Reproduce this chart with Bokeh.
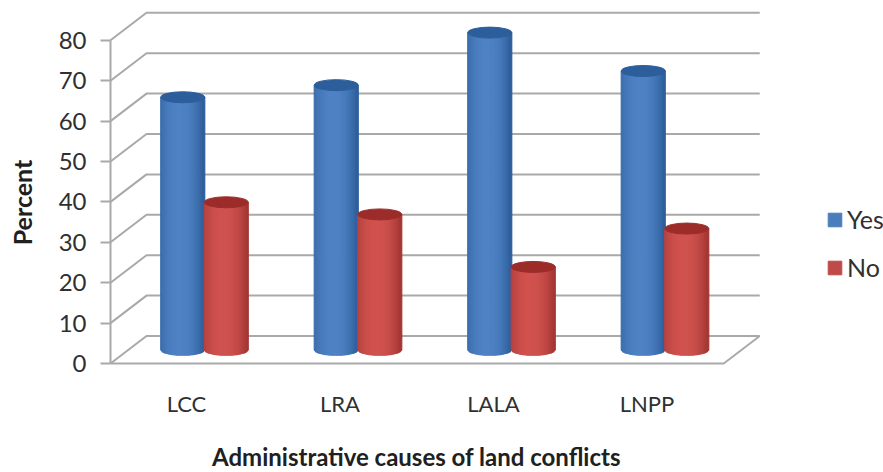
from bokeh.embed import file_html
from bokeh.resources import INLINE
from bokeh.plotting import figure
from bokeh.models import Range1d, FixedTicker, Legend, LegendItem, Label
import numpy as np

categories = ["LCC", "LRA", "LALA", "LNPP"]
yes_values = [62.5, 65.5, 78.5, 69]
no_values = [36.5, 33.5, 20.5, 30]
y_ticks = [0, 10, 20, 30, 40, 50, 60, 70, 80]
x_title = "Administrative causes of land conflicts"
y_title = "Percent"

# the frame fills the canvas; data origin sits at pixel (186, 363)
PX_X = 153.5
PX_Y = 4.04
AXIS_X, AXIS_Y = 110, 363
W, H = 883, 472
x0 = -186 / PX_X
x1 = x0 + W / PX_X
y0 = -(H - AXIS_Y) / PX_Y
y1 = AXIS_Y / PX_Y

p = figure(width=W, height=H, output_backend="svg", toolbar_location=None,
           x_range=Range1d(x0, x1), y_range=Range1d(y0, y1),
           min_border_left=0, min_border_right=0, min_border_top=0,
           min_border_bottom=0, outline_line_color=None)
p.grid.visible = False

# oblique projection: full depth of the floor, in data units
DX = 36 / PX_X
DY = 27.5 / PX_Y
FLOOR_L, FLOOR_R = -(186 - AXIS_X) / PX_X, 3.5
GREY = "#a9a9a9"

# side wall and back wall gridlines
for v in y_ticks:
    p.line([FLOOR_L, FLOOR_L + DX, FLOOR_R + DX],
           [v, v + DY, v + DY], line_color=GREY, line_width=2)
# floor outline
p.line([FLOOR_L, FLOOR_R, FLOOR_R + DX], [0, 0, DY], line_color=GREY, line_width=2)

# cylinders stand halfway into the depth
BAR_W = 44 / PX_X
ELL_H = 11 / PX_Y


def lerp(a, b, t):
    return tuple(a[k] + (b[k] - a[k]) * t for k in range(3))


def to_hex(c):
    return "#%02x%02x%02x" % tuple(int(round(k)) for k in c)


def cylinder(cx, val, edge, mid, cap):
    base = DY / 2
    top = base + val
    n = 22
    edges = np.linspace(-1, 1, n + 1)
    xs, ys, cols = [], [], []
    for i in range(n):
        a, b = edges[i], edges[i + 1]
        m = (a + b) / 2
        t = max(0.0, 1 - (abs(m + 0.12) / 1.12) ** 2.2)
        cols.append(to_hex(lerp(edge, mid, t)))
        sa = -np.sqrt(1 - a * a) * ELL_H / 2
        sb = -np.sqrt(1 - b * b) * ELL_H / 2
        xa = cx + a * BAR_W / 2
        xb = cx + b * BAR_W / 2
        xs.append([xa, xb, xb, xa])
        ys.append([base + sa, base + sb, top + sb, top + sa])
    p.patches(xs, ys, fill_color=cols, line_color=cols, line_width=1.2)
    p.ellipse([cx], [top], width=BAR_W, height=ELL_H,
              fill_color=to_hex(cap), line_color=to_hex(cap))


BLUE = ((44, 92, 152), (78, 130, 196), (44, 94, 156))
RED = ((160, 52, 50), (208, 82, 78), (156, 44, 42))
GAP = 43.5 / PX_X
for i in range(len(categories)):
    centre = i + DX / 2
    cylinder(centre - GAP / 2, yes_values[i], *BLUE)
    cylinder(centre + GAP / 2, no_values[i], *RED)

# left axis, pinned to the front edge of the floor
ya = p.yaxis[0]
ya.fixed_location = FLOOR_L
ya.ticker = FixedTicker(ticks=y_ticks)
ya.bounds = (0, 80)
ya.axis_line_color = GREY
ya.axis_line_width = 2
ya.major_tick_line_color = GREY
ya.major_tick_line_width = 2
ya.major_tick_in = 0
ya.major_tick_out = 10
ya.minor_tick_line_color = None
ya.major_label_standoff = 14
ya.major_label_text_font = "Lato"
ya.major_label_text_font_size = "24px"
ya.major_label_text_color = "#303030"

# bottom axis, pinned to zero
xa = p.xaxis[0]
xa.fixed_location = 0
xa.ticker = FixedTicker(ticks=list(range(len(categories))))
xa.major_label_overrides = {i: c for i, c in enumerate(categories)}
xa.axis_line_color = None
xa.major_tick_line_color = None
xa.minor_tick_line_color = None
xa.major_tick_out = 0
xa.major_label_standoff = 26
xa.major_label_text_font = "Lato"
xa.major_label_text_font_size = "22px"
xa.major_label_text_color = "#303030"

# axis titles, positioned from the canvas' lower left corner
p.add_layout(Label(text=y_title, x=21, y=H - 202, x_units="screen", y_units="screen",
                   angle=np.pi / 2, text_align="center", text_baseline="middle",
                   text_font="Lato", text_font_style="bold", text_font_size="25px",
                   text_color="#202020"))
p.add_layout(Label(text=x_title, x=416, y=H - 456, x_units="screen", y_units="screen",
                   text_align="center", text_baseline="middle",
                   text_font="Lato", text_font_style="bold", text_font_size="24px",
                   text_color="#202020"))

# legend swatches
s_yes = p.quad(left=[np.nan], right=[np.nan], bottom=[np.nan], top=[np.nan],
               fill_color="#4a7ebb", line_color="#4a7ebb")
s_no = p.quad(left=[np.nan], right=[np.nan], bottom=[np.nan], top=[np.nan],
              fill_color="#be4b48", line_color="#be4b48")
legend = Legend(items=[LegendItem(label="Yes", renderers=[s_yes]),
                       LegendItem(label="No", renderers=[s_no])],
                location=(826, 190), border_line_color=None,
                background_fill_alpha=0, glyph_width=17, glyph_height=17,
                label_text_font="Lato", label_text_font_size="25px",
                label_text_color="#303030", spacing=18, margin=0, padding=0,
                label_standoff=4)
p.add_layout(legend)

open("out.html", "w").write(file_html(p, INLINE))
